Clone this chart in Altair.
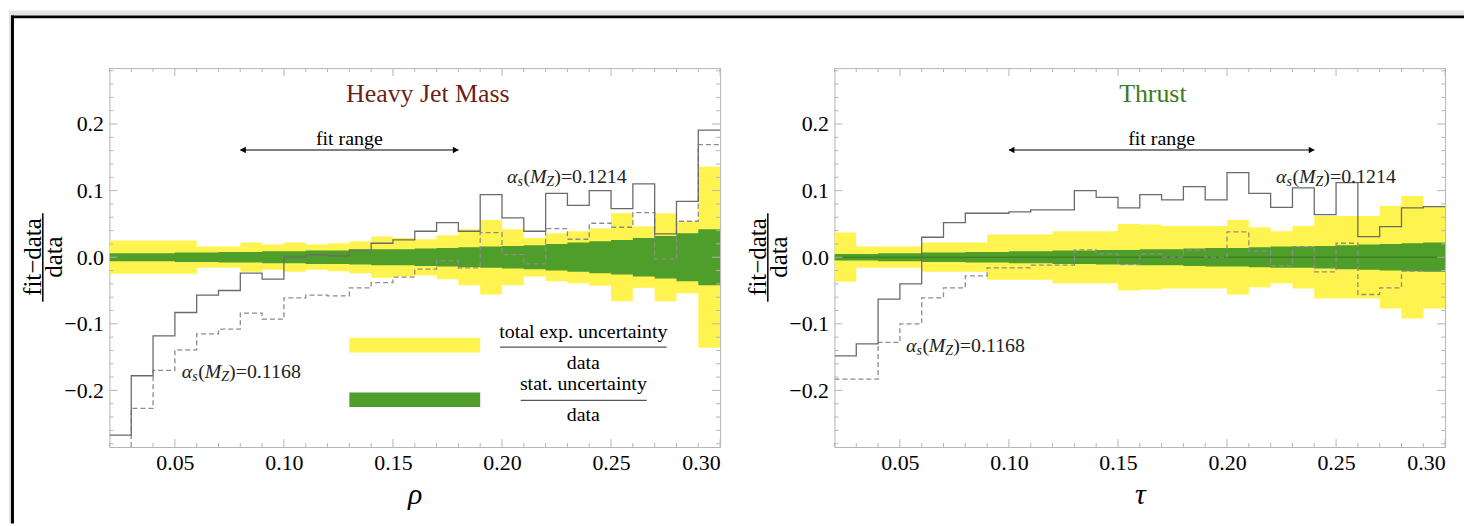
import altair as alt
import pandas as pd

# ---------------- data ----------------
EDGES = [0.02, 0.03, 0.04, 0.05, 0.06, 0.07, 0.08, 0.09, 0.10, 0.11, 0.12, 0.13, 0.14, 0.15,
         0.16, 0.17, 0.18, 0.19, 0.20, 0.21, 0.22, 0.23, 0.24, 0.25, 0.26, 0.27, 0.28, 0.29, 0.30]

# Heavy jet mass: (fit - data)/data per bin
HJM_1214 = [-0.267, -0.178, -0.118, -0.083, -0.057, -0.050, -0.024, -0.033, 0.000, 0.004,
            0.002, 0.011, 0.021, 0.026, 0.039, 0.052, 0.039, 0.094, 0.059, 0.039,
            0.096, 0.078, 0.100, 0.073, 0.110, 0.035, 0.084, 0.191]
HJM_1168 = [-0.300, -0.227, -0.170, -0.139, -0.115, -0.108, -0.084, -0.093, -0.061, -0.057,
            -0.058, -0.046, -0.038, -0.030, -0.018, -0.005, -0.016, 0.037, 0.004, -0.010,
            0.043, 0.027, 0.051, 0.045, 0.067, -0.003, 0.054, 0.169]
HJM_TOTAL = [0.025, 0.025, 0.025, 0.025, 0.016, 0.016, 0.022, 0.019, 0.022, 0.019,
             0.021, 0.024, 0.031, 0.029, 0.027, 0.033, 0.042, 0.056, 0.042, 0.029,
             0.036, 0.039, 0.043, 0.066, 0.046, 0.066, 0.054, 0.136]
HJM_STAT = [0.006, 0.006, 0.006, 0.007, 0.007, 0.008, 0.008, 0.009, 0.009, 0.010,
            0.010, 0.011, 0.012, 0.012, 0.013, 0.014, 0.015, 0.016, 0.017, 0.018,
            0.020, 0.022, 0.024, 0.026, 0.029, 0.032, 0.036, 0.042]

# Thrust
THR_1214 = [-0.148, -0.130, -0.063, -0.040, 0.030, 0.052, 0.066, 0.066, 0.068, 0.071,
            0.071, 0.100, 0.090, 0.074, 0.094, 0.086, 0.106, 0.086, 0.127, 0.096,
            0.075, 0.104, 0.064, 0.112, 0.031, 0.046, 0.074, 0.076]
THR_1168 = [-0.183, -0.183, -0.128, -0.100, -0.061, -0.046, -0.028, -0.016, -0.016, -0.012,
            -0.012, 0.011, 0.005, -0.011, 0.005, 0.000, 0.011, 0.000, 0.038, 0.009,
            -0.013, 0.016, -0.022, 0.021, -0.056, -0.046, -0.021, -0.021]
THR_TOTAL = [0.037, 0.016, 0.016, 0.016, 0.022, 0.022, 0.022, 0.034, 0.034, 0.034,
             0.039, 0.039, 0.039, 0.050, 0.049, 0.047, 0.047, 0.047, 0.056, 0.045,
             0.039, 0.047, 0.062, 0.062, 0.062, 0.077, 0.092, 0.077]
THR_STAT = [0.005, 0.005, 0.006, 0.006, 0.007, 0.007, 0.008, 0.008, 0.009, 0.009,
            0.010, 0.010, 0.011, 0.011, 0.012, 0.012, 0.013, 0.014, 0.014, 0.015,
            0.016, 0.016, 0.017, 0.018, 0.019, 0.020, 0.021, 0.022]

Y_MAJOR = [-0.2, -0.1, 0.0, 0.1, 0.2]
Y_MINOR = [-0.28, -0.26, -0.24, -0.22, -0.18, -0.16, -0.14, -0.12, -0.08, -0.06, -0.04, -0.02,
           0.02, 0.04, 0.06, 0.08, 0.12, 0.14, 0.16, 0.18, 0.22, 0.24, 0.26, 0.28]
X_MAJOR = [0.05, 0.10, 0.15, 0.20, 0.25, 0.30]
X_MINOR = [0.02, 0.03, 0.04, 0.06, 0.07, 0.08, 0.09, 0.11, 0.12, 0.13, 0.14, 0.16, 0.17,
           0.18, 0.19, 0.21, 0.22, 0.23, 0.24, 0.26, 0.27, 0.28, 0.29]

# ---------------- style ----------------
W, H = 614, 381
SERIF = "Liberation Serif"
YEL = "#fff44f"
GRN = "#4f9d2a"
FRAME = "#b4b4b4"
SOLID_C = "#6a6a6a"
DASH_C = "#8c8c8c"
OUT_R = 1362   # right end of the page backdrop, in left-panel pixels
OUT_B = 458    # bottom end of the page backdrop

xscale = alt.Scale(domain=[0.02, 0.30], nice=False, zero=False)
yscale = alt.Scale(domain=[-0.285, 0.284], nice=False, zero=False)


def X(field, title):
    return alt.X(f"{field}:Q", scale=xscale,
                 axis=alt.Axis(values=X_MAJOR, format=".2f", title=title,
                               titleFont=SERIF, titleFontStyle="italic",
                               titleFontWeight="normal", titleFontSize=30,
                               titlePadding=6, titleColor="black"))


def Y(field):
    return alt.Y(f"{field}:Q", scale=yscale,
                 axis=alt.Axis(values=Y_MAJOR, format=".1f", title=""))


def panel(solid, dashed, total, stat, title_text, title_color, fit_lo, fit_hi,
          fit_x, hi_xy, lo_xy, xtitle, legend=False, border=False, zero_line=False):
    last = lambda a: list(a) + [a[-1]]
    band = pd.DataFrame({
        "x": EDGES,
        "tot_hi": last(total), "tot_lo": [-v for v in last(total)],
        "st_hi": last(stat), "st_lo": [-v for v in last(stat)],
        "solid": last(solid), "dashed": last(dashed),
    })
    layers = []
    one = pd.DataFrame({"a": [0]})
    if border:
        # grey page backdrop strips and the black window frame (top and left edges)
        layers.append(alt.Chart(one).mark_rect(fill="#e2e2e2").encode(
            x=alt.value(-101), x2=alt.value(OUT_R), y=alt.value(-58), y2=alt.value(-53)))
        layers.append(alt.Chart(one).mark_rect(fill="#e2e2e2").encode(
            x=alt.value(-101), x2=alt.value(-99), y=alt.value(-58), y2=alt.value(OUT_B)))
        layers.append(alt.Chart(one).mark_rect(fill="black").encode(
            x=alt.value(-99), x2=alt.value(OUT_R), y=alt.value(-53), y2=alt.value(-50)))
        layers.append(alt.Chart(one).mark_rect(fill="black").encode(
            x=alt.value(-99), x2=alt.value(-96), y=alt.value(-53), y2=alt.value(OUT_B)))

    layers.append(alt.Chart(band).mark_area(interpolate="step-after", color=YEL, clip=True)
                  .encode(x=X("x", xtitle), y=Y("tot_hi"), y2="tot_lo"))
    layers.append(alt.Chart(band).mark_area(interpolate="step-after", color=GRN, clip=True)
                  .encode(x=X("x", xtitle), y=Y("st_hi"), y2="st_lo"))
    if zero_line:
        layers.append(alt.Chart(pd.DataFrame({"y": [0.0]})).mark_rule(
            color="#2f6a1a", strokeWidth=0.8).encode(y=Y("y")))
    if legend:
        leg = pd.DataFrame({"x": [0.13, 0.13], "x2": [0.19, 0.19],
                            "y": [-0.121, -0.203], "y2": [-0.143, -0.225],
                            "c": [YEL, GRN]})
        layers.append(alt.Chart(leg).mark_rect().encode(
            x=X("x", xtitle), x2="x2", y=Y("y"), y2="y2",
            color=alt.Color("c:N", scale=None)))
        legt = pd.DataFrame({"x": [0.2373] * 4, "y": [-0.112, -0.159, -0.190, -0.237],
                             "t": ["total exp. uncertainty", "data", "stat. uncertainty", "data"]})
        layers.append(alt.Chart(legt).mark_text(font=SERIF, fontSize=20, color="black",
                                                baseline="middle", align="center")
                      .encode(x=X("x", xtitle), y=Y("y"), text="t:N"))
        legb = pd.DataFrame({"x": [0.1991, 0.2086], "x2": [0.2755, 0.2664], "y": [-0.135, -0.215]})
        layers.append(alt.Chart(legb).mark_rule(color="#555555", strokeWidth=1.3).encode(
            x=X("x", xtitle), x2="x2", y=Y("y")))

    layers.append(alt.Chart(band).mark_line(interpolate="step-after", color=DASH_C,
                                            strokeWidth=1.3, strokeDash=[5, 3], clip=True)
                  .encode(x=X("x", xtitle), y=Y("dashed")))
    layers.append(alt.Chart(band).mark_line(interpolate="step-after", color=SOLID_C,
                                            strokeWidth=1.3, clip=True)
                  .encode(x=X("x", xtitle), y=Y("solid")))

    # inward frame ticks
    ymaj = pd.DataFrame({"v": Y_MAJOR})
    ymin = pd.DataFrame({"v": Y_MINOR})
    xmaj = pd.DataFrame({"v": X_MAJOR})
    xmin = pd.DataFrame({"v": X_MINOR})
    for df, ln in ((ymaj, 8), (ymin, 4)):
        layers.append(alt.Chart(df).mark_rule(color=FRAME, strokeWidth=1).encode(
            y=Y("v"), x=alt.value(0), x2=alt.value(ln)))
        layers.append(alt.Chart(df).mark_rule(color=FRAME, strokeWidth=1).encode(
            y=Y("v"), x=alt.value(W), x2=alt.value(W - ln)))
    for df, ln in ((xmaj, 8), (xmin, 4)):
        layers.append(alt.Chart(df).mark_rule(color=FRAME, strokeWidth=1).encode(
            x=X("v", xtitle), y=alt.value(H), y2=alt.value(H - ln)))
        layers.append(alt.Chart(df).mark_rule(color=FRAME, strokeWidth=1).encode(
            x=X("v", xtitle), y=alt.value(0), y2=alt.value(ln)))

    # title
    tdf = pd.DataFrame({"x": [0.166], "y": [0.245], "t": [title_text]})
    layers.append(alt.Chart(tdf).mark_text(font=SERIF, fontSize=26, color=title_color,
                                           baseline="middle", align="center")
                  .encode(x=X("x", xtitle), y=Y("y"), text="t:N"))
    # fit range
    fdf = pd.DataFrame({"x": [fit_x], "y": [0.178], "t": ["fit range"]})
    layers.append(alt.Chart(fdf).mark_text(font=SERIF, fontSize=20, color="black",
                                           baseline="middle", align="center")
                  .encode(x=X("x", xtitle), y=Y("y"), text="t:N"))
    adf = pd.DataFrame({"x": [fit_lo], "x2": [fit_hi], "y": [0.161]})
    layers.append(alt.Chart(adf).mark_rule(color="black", strokeWidth=1.2).encode(
        x=X("x", xtitle), x2="x2", y=Y("y")))
    hdf = pd.DataFrame({"x": [fit_lo + 0.0012, fit_hi - 0.0012], "y": [0.161, 0.161],
                        "s": ["triangle-left", "triangle-right"]})
    layers.append(alt.Chart(hdf).mark_point(filled=True, color="black", size=45, opacity=1)
                  .encode(x=X("x", xtitle), y=Y("y"), shape=alt.Shape("s:N", scale=None)))

    # alpha_s labels built from pieces
    ldf = pd.DataFrame({"x": [hi_xy[0], lo_xy[0]], "y": [hi_xy[1], lo_xy[1]],
                        "rest": [")=0.1214", ")=0.1168"]})
    pieces = [("α", 0, 0, 20, "italic"), ("s", 10.5, 5, 14, "italic"), ("(", 16.5, 0, 20, "normal"),
              ("M", 23, 0, 20, "italic"), ("Z", 39.5, 5, 14, "italic")]
    for txt, dx, dy, fs, st in pieces:
        layers.append(alt.Chart(ldf).mark_text(font=SERIF, fontSize=fs, fontStyle=st,
                                               color="#222222", align="left", baseline="middle",
                                               dx=dx, dy=dy, text=txt)
                      .encode(x=X("x", xtitle), y=Y("y")))
    layers.append(alt.Chart(ldf).mark_text(font=SERIF, fontSize=20, color="#222222",
                                           align="left", baseline="middle", dx=47.5)
                  .encode(x=X("x", xtitle), y=Y("y"), text="rest:N"))

    # y-axis fraction title
    layers.append(alt.Chart(one).mark_text(font=SERIF, fontSize=25, angle=270, color="black",
                                           baseline="middle", align="center", text="fit−data")
                  .encode(x=alt.value(-77), y=alt.value(190)))
    layers.append(alt.Chart(one).mark_text(font=SERIF, fontSize=25, angle=270, color="black",
                                           baseline="middle", align="center", text="data")
                  .encode(x=alt.value(-56), y=alt.value(190)))
    layers.append(alt.Chart(one).mark_rule(color="black", strokeWidth=1.5)
                  .encode(x=alt.value(-67), y=alt.value(146), y2=alt.value(235)))

    return alt.layer(*layers).properties(width=W, height=H)


left = panel(HJM_1214, HJM_1168, HJM_TOTAL, HJM_STAT, "Heavy Jet Mass", "#6b1f19",
             0.08, 0.18, 0.13, (0.2023, 0.121), (0.0532, -0.173), "ρ",
             legend=True, border=True)
right = panel(THR_1214, THR_1168, THR_TOTAL, THR_STAT, "Thrust", "#3d7a1c",
              0.10, 0.24, 0.17, (0.2225, 0.121), (0.0528, -0.133), "τ",
              zero_line=True)

chart = (alt.hconcat(left, right, spacing=115, bounds="flush")
         .properties(autosize=alt.AutoSizeParams(type="pad"), padding=0)
         .configure(background="white")
         .configure_view(stroke=FRAME, strokeWidth=1)
         .configure_axis(domain=False, ticks=False, grid=False, labelFont=SERIF,
                         labelFontSize=22, labelColor="black", labelPadding=6))

chart.save("out.html", embed_options={"renderer": "svg", "actions": False})
